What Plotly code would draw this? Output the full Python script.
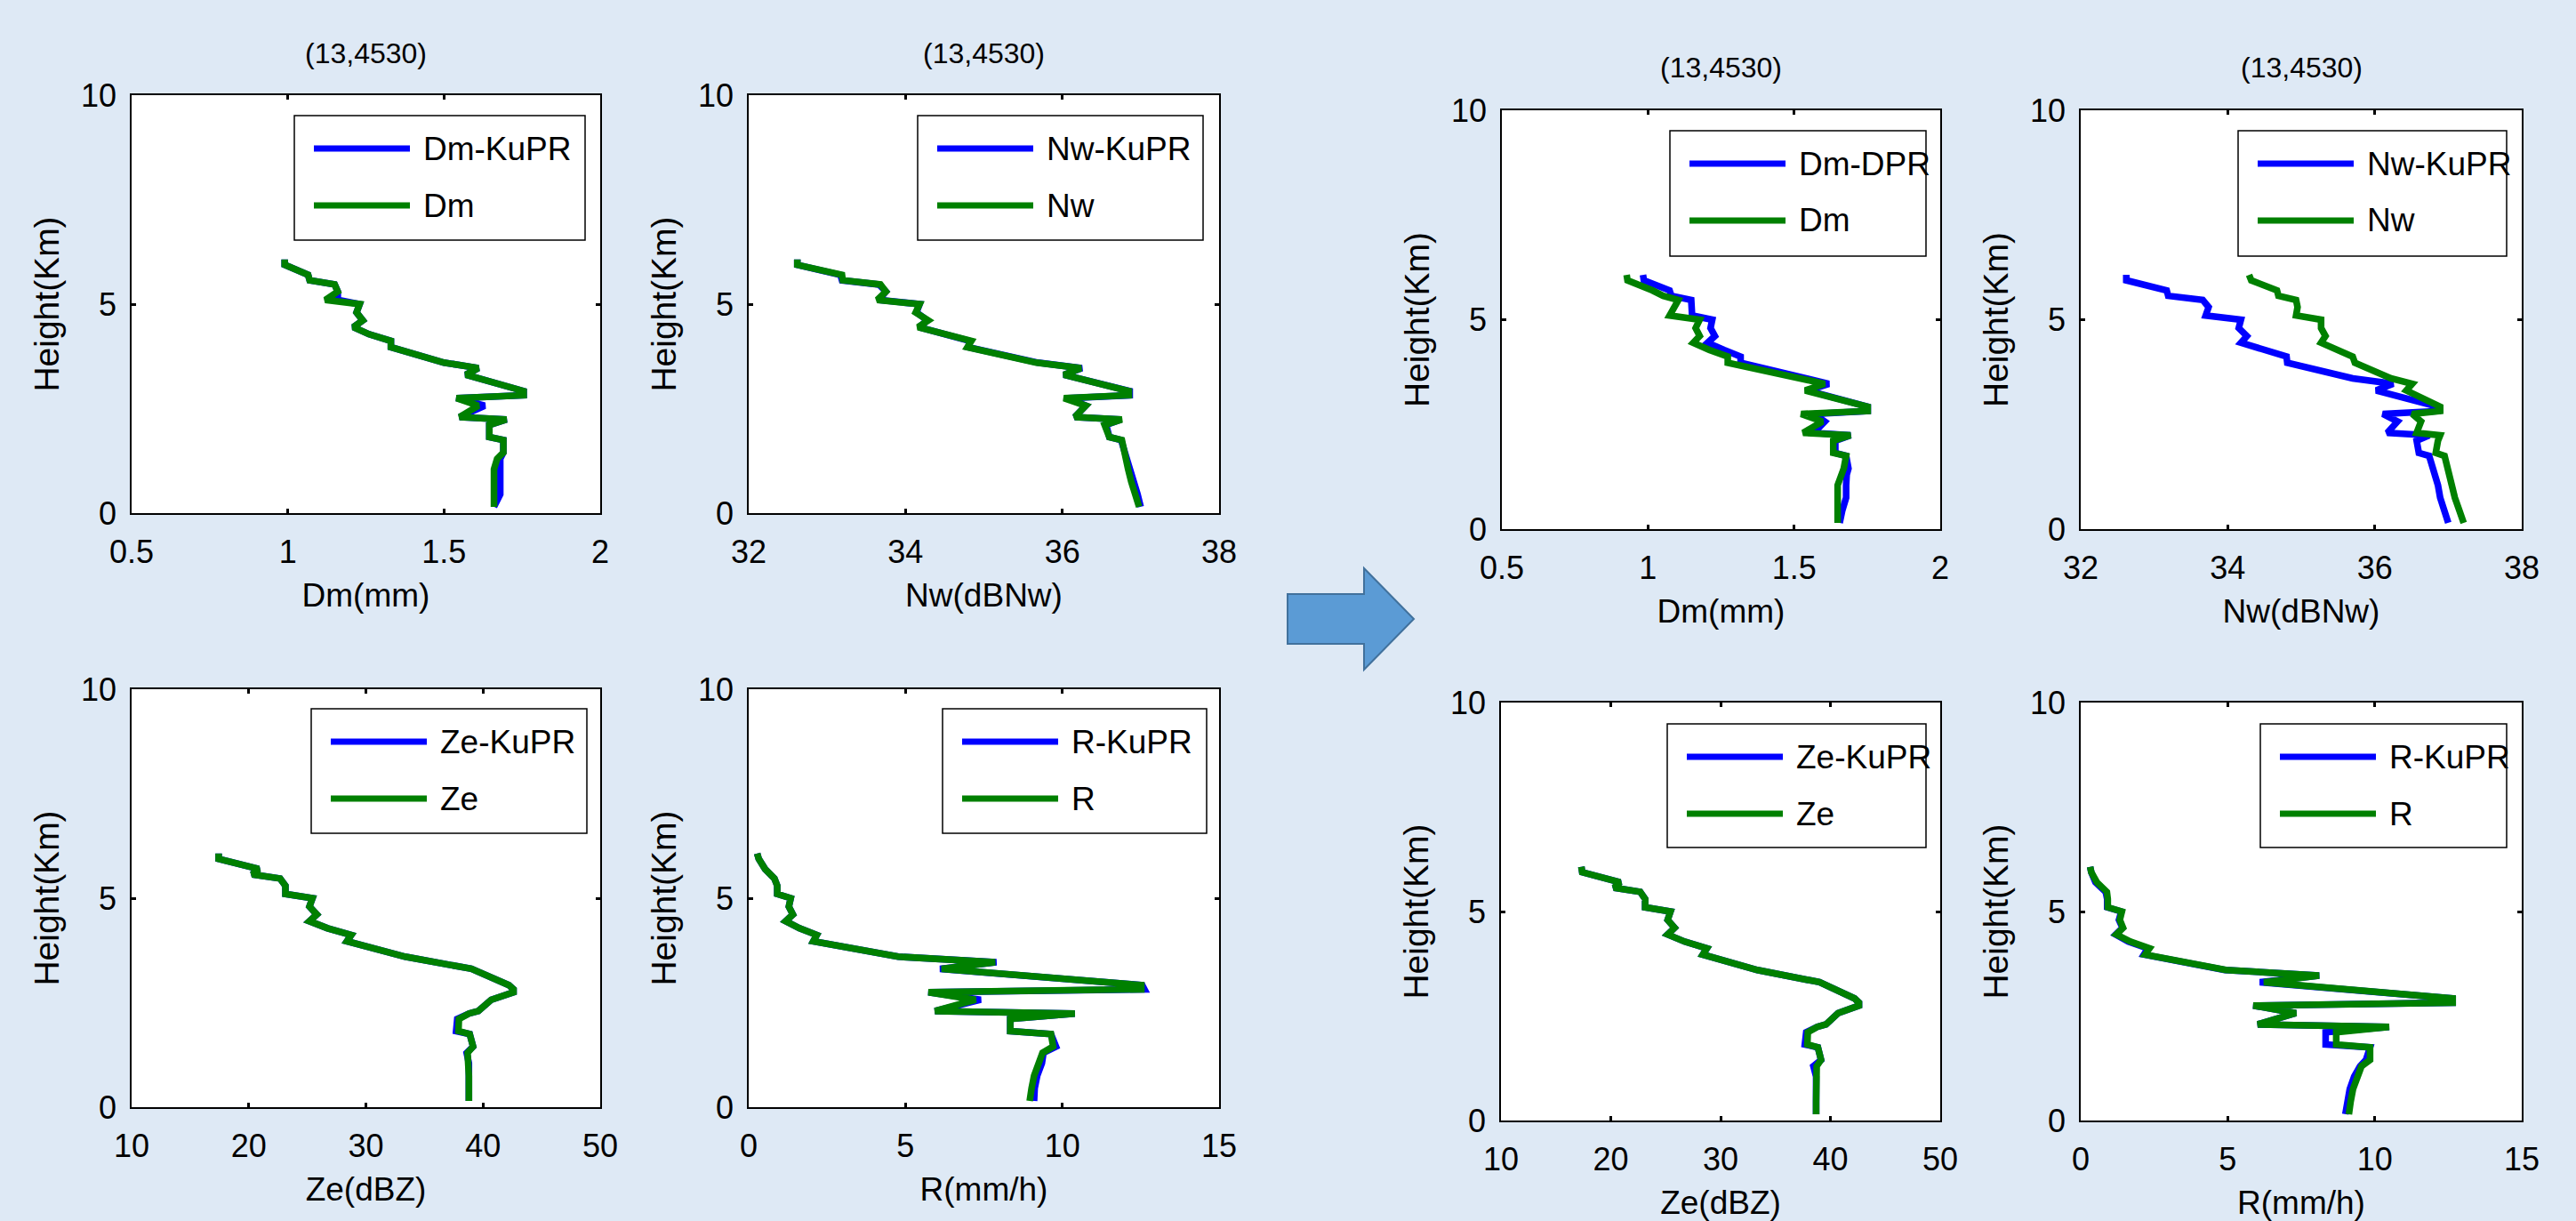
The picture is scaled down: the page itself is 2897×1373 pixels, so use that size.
import plotly.graph_objects as go

W, H = 2897, 1373
FONT = "Liberation Sans, Arial, Helvetica, sans-serif"
BLUE = "#0000FF"
GREEN = "#008000"

# ---------------- data ----------------
height_km = [6.07, 5.94, 5.70, 5.57, 5.47, 5.30, 5.10, 5.00, 4.80, 4.61, 4.45, 4.28, 4.12, 3.97,
             3.60, 3.47, 3.31, 2.92, 2.82, 2.75, 2.57, 2.30, 2.24, 2.11, 1.82, 1.75, 1.45, 1.30,
             1.05, 0.75, 0.45, 0.15]

# left block (KuPR vs retrieved)
dm_kupr_l = [0.99, 0.99, 1.065, 1.07, 1.15, 1.16, 1.16, 1.23, 1.22, 1.24, 1.21, 1.26, 1.33, 1.33,
             1.50, 1.61, 1.57, 1.755, 1.755, 1.54, 1.63, 1.55, 1.70, 1.645, 1.645, 1.69, 1.69, 1.68,
             1.68, 1.68, 1.68, 1.66]
dm_l = [0.99, 0.99, 1.065, 1.07, 1.15, 1.16, 1.12, 1.23, 1.22, 1.24, 1.21, 1.26, 1.33, 1.33,
        1.50, 1.61, 1.57, 1.755, 1.755, 1.54, 1.61, 1.55, 1.70, 1.645, 1.645, 1.69, 1.69, 1.67,
        1.66, 1.66, 1.66, 1.66]
nw_kupr_l = [32.62, 32.62, 33.17, 33.19, 33.66, 33.75, 33.66, 34.18, 34.14, 34.28, 34.17, 34.50,
             34.82, 34.80, 35.69, 36.25, 36.02, 36.86, 36.86, 36.07, 36.30, 36.16, 36.75, 36.56,
             36.60, 36.75, 36.80, 36.84, 36.88, 36.91, 36.96, 37.00]
nw_l = [32.62, 32.62, 33.19, 33.20, 33.68, 33.75, 33.64, 34.18, 34.13, 34.29, 34.16, 34.50,
        34.84, 34.79, 35.67, 36.24, 36.02, 36.85, 36.85, 36.02, 36.30, 36.16, 36.76, 36.54,
        36.60, 36.76, 36.79, 36.80, 36.84, 36.88, 36.94, 36.98]
ze_kupr_l = [17.43, 17.43, 20.85, 20.30, 22.68, 23.13, 23.13, 25.44, 25.18, 25.81, 25.18, 26.73,
             28.75, 28.38, 33.35, 35.80, 39.00, 42.20, 42.60, 42.60, 40.70, 39.60, 38.80, 37.80,
             37.70, 38.86, 39.15, 38.60, 38.79, 38.79, 38.79, 38.79]
ze_l = [17.43, 17.43, 20.85, 20.30, 22.68, 23.13, 23.13, 25.44, 25.18, 25.81, 25.18, 26.73,
        28.75, 28.38, 33.35, 35.80, 39.00, 42.20, 42.60, 42.60, 40.70, 39.60, 38.80, 37.94,
        37.90, 38.86, 39.15, 38.68, 38.79, 38.79, 38.79, 38.79]
r_kupr_l = [0.27, 0.32, 0.52, 0.72, 0.82, 0.91, 0.91, 1.34, 1.28, 1.41, 1.18, 1.62, 2.17, 2.06,
            4.77, 7.90, 6.10, 12.55, 12.62, 5.73, 7.40, 5.94, 10.40, 8.34, 8.34, 9.64, 9.80, 9.40,
            9.35, 9.20, 9.12, 9.10]
r_l = [0.27, 0.32, 0.52, 0.72, 0.82, 0.91, 0.91, 1.34, 1.28, 1.41, 1.18, 1.62, 2.17, 2.06,
       4.77, 7.86, 6.15, 12.52, 12.52, 5.73, 7.24, 5.94, 10.40, 8.34, 8.34, 9.64, 9.71, 9.37,
       9.25, 9.10, 9.02, 8.96]

# right block (DPR / KuPR vs retrieved)
dm_dpr_r = [0.983, 0.986, 1.074, 1.08, 1.148, 1.15, 1.151, 1.22, 1.214, 1.229, 1.204, 1.26, 1.317,
            1.317, 1.524, 1.619, 1.546, 1.752, 1.752, 1.568, 1.605, 1.568, 1.693, 1.641, 1.641,
            1.678, 1.686, 1.68, 1.678, 1.678, 1.665, 1.656]
dm_r = [0.927, 0.93, 1.015, 1.052, 1.104, 1.09, 1.074, 1.177, 1.163, 1.177, 1.155, 1.21, 1.273,
        1.273, 1.516, 1.605, 1.538, 1.752, 1.752, 1.524, 1.597, 1.531, 1.693, 1.634, 1.634,
        1.678, 1.67, 1.66, 1.649, 1.649, 1.649, 1.649]
nw_kupr_r = [32.62, 32.62, 33.17, 33.19, 33.66, 33.74, 33.70, 34.18, 34.15, 34.26, 34.18, 34.50,
             34.80, 34.81, 35.70, 36.25, 36.02, 36.86, 36.86, 36.11, 36.31, 36.17, 36.74, 36.57,
             36.60, 36.74, 36.80, 36.83, 36.86, 36.89, 36.95, 37.00]
nw_r = [34.29, 34.32, 34.67, 34.69, 34.93, 34.95, 34.93, 35.27, 35.27, 35.33, 35.27, 35.50,
        35.70, 35.73, 36.22, 36.51, 36.43, 36.89, 36.89, 36.51, 36.63, 36.57, 36.89, 36.86,
        36.83, 36.95, 36.99, 37.01, 37.06, 37.09, 37.15, 37.21]
ze_kupr_r = [17.32, 17.40, 20.85, 20.30, 22.68, 23.13, 23.13, 25.44, 25.18, 25.81, 25.18, 26.73,
             28.75, 28.38, 33.35, 35.80, 39.00, 42.20, 42.60, 42.60, 40.70, 39.60, 38.80, 37.80,
             37.67, 38.86, 39.15, 38.45, 38.70, 38.70, 38.70, 38.70]
ze_r = [17.32, 17.40, 20.85, 20.30, 22.68, 23.13, 23.13, 25.44, 25.18, 25.81, 25.18, 26.73,
        28.75, 28.38, 33.35, 35.80, 39.00, 42.20, 42.60, 42.60, 40.70, 39.60, 38.80, 37.94,
        37.90, 38.86, 39.15, 38.75, 38.70, 38.70, 38.70, 38.70]
r_kupr_r = [0.32, 0.36, 0.50, 0.72, 0.85, 0.90, 0.90, 1.38, 1.30, 1.42, 1.19, 1.62, 2.28, 2.15,
            4.90, 8.11, 6.09, 12.65, 12.65, 5.87, 7.32, 6.02, 10.49, 8.33, 8.33, 9.84, 9.70, 9.50,
            9.30, 9.15, 9.05, 9.00]
r_r = [0.32, 0.36, 0.55, 0.75, 0.89, 0.92, 0.92, 1.40, 1.33, 1.44, 1.21, 1.69, 2.34, 2.19,
       4.94, 8.11, 6.23, 12.65, 12.65, 5.87, 7.32, 6.02, 10.49, 8.69, 8.69, 9.84, 9.84, 9.55,
       9.42, 9.26, 9.18, 9.12]

panel_title = "(13,4530)"
y_label = "Height(Km)"
y_ticks = [0, 5, 10]

dm_ticks = [0.5, 1, 1.5, 2]
dm_ticktext = ["0.5", "1", "1.5", "2"]
nw_ticks = [32, 34, 36, 38]
ze_ticks = [10, 20, 30, 40, 50]
r_ticks = [0, 5, 10, 15]

# ---------------- layout helpers ----------------
def px_x(p):
    return p / W

def px_y(p):
    return 1 - p / H

# box: (left, right, top, bottom) in pixels; leg: legend box (left, right, top, bottom); title y
panels = [
    dict(box=(148, 675, 107, 577), xs=(dm_kupr_l, dm_l), names=("Dm-KuPR", "Dm"), xlabel="Dm(mm)",
         rng=[0.5, 2], ticks=dm_ticks, ticktext=dm_ticktext, title_y=60, leg=(331, 658, 130, 270)),
    dict(box=(842, 1371, 107, 577), xs=(nw_kupr_l, nw_l), names=("Nw-KuPR", "Nw"), xlabel="Nw(dBNw)",
         rng=[32, 38], ticks=nw_ticks, ticktext=None, title_y=60, leg=(1032, 1353, 130, 270)),
    dict(box=(1689, 2182, 124, 595), xs=(dm_dpr_r, dm_r), names=("Dm-DPR", "Dm"), xlabel="Dm(mm)",
         rng=[0.5, 2], ticks=dm_ticks, ticktext=dm_ticktext, title_y=76, leg=(1878, 2166, 147, 288)),
    dict(box=(2340, 2836, 124, 595), xs=(nw_kupr_r, nw_r), names=("Nw-KuPR", "Nw"), xlabel="Nw(dBNw)",
         rng=[32, 38], ticks=nw_ticks, ticktext=None, title_y=76, leg=(2517, 2819, 147, 288)),
    dict(box=(148, 675, 775, 1245), xs=(ze_kupr_l, ze_l), names=("Ze-KuPR", "Ze"), xlabel="Ze(dBZ)",
         rng=[10, 50], ticks=ze_ticks, ticktext=None, title_y=None, leg=(350, 660, 797, 937)),
    dict(box=(842, 1371, 775, 1245), xs=(r_kupr_l, r_l), names=("R-KuPR", "R"), xlabel="R(mm/h)",
         rng=[0, 15], ticks=r_ticks, ticktext=None, title_y=None, leg=(1060, 1357, 797, 937)),
    dict(box=(1688, 2182, 790, 1260), xs=(ze_kupr_r, ze_r), names=("Ze-KuPR", "Ze"), xlabel="Ze(dBZ)",
         rng=[10, 50], ticks=ze_ticks, ticktext=None, title_y=None, leg=(1875, 2166, 814, 953)),
    dict(box=(2340, 2836, 790, 1260), xs=(r_kupr_r, r_r), names=("R-KuPR", "R"), xlabel="R(mm/h)",
         rng=[0, 15], ticks=r_ticks, ticktext=None, title_y=None, leg=(2542, 2819, 814, 953)),
]

fig = go.Figure()
shapes = []
annotations = []
layout = dict(
    width=W, height=H,
    margin=dict(l=0, r=0, t=0, b=0),
    paper_bgcolor="#DEE9F5",
    plot_bgcolor="white",
    showlegend=False,
    font=dict(family=FONT, size=34, color="black"),
)

for i, p in enumerate(panels, start=1):
    xa = "x" if i == 1 else f"x{i}"
    ya = "y" if i == 1 else f"y{i}"
    l, r, t, b = p["box"]
    blue_x, green_x = p["xs"]
    fig.add_trace(go.Scatter(x=blue_x, y=height_km, mode="lines", name=p["names"][0],
                             line=dict(color=BLUE, width=7.5), xaxis=xa, yaxis=ya))
    fig.add_trace(go.Scatter(x=green_x, y=height_km, mode="lines", name=p["names"][1],
                             line=dict(color=GREEN, width=7.5), xaxis=xa, yaxis=ya))
    common = dict(showline=True, linecolor="black", linewidth=1.5, mirror="allticks",
                  ticks="inside", ticklen=5, tickwidth=3, tickcolor="black",
                  showgrid=False, zeroline=False, automargin=False,
                  tickfont=dict(family=FONT, size=36, color="black"))
    xaxis = dict(common, domain=[px_x(l), px_x(r)], range=p["rng"], tickvals=p["ticks"],
                 anchor=ya, ticklabelstandoff=11,
                 title=dict(text=p["xlabel"], font=dict(family=FONT, size=37), standoff=16))
    if p["ticktext"]:
        xaxis["ticktext"] = p["ticktext"]
    yaxis = dict(common, domain=[px_y(b), px_y(t)], range=[0, 10], tickvals=y_ticks,
                 anchor=xa, ticklabelstandoff=8,
                 title=dict(text=y_label, font=dict(family=FONT, size=39), standoff=12))
    layout["xaxis" if i == 1 else f"xaxis{i}"] = xaxis
    layout["yaxis" if i == 1 else f"yaxis{i}"] = yaxis

    if p["title_y"] is not None:
        annotations.append(dict(text=panel_title, xref="paper", yref="paper",
                                x=px_x((l + r) / 2), y=px_y(p["title_y"]),
                                xanchor="center", yanchor="middle", showarrow=False,
                                font=dict(family=FONT, size=32, color="black")))
    # legend box drawn as shapes + text
    ll, lr, lt, lb = p["leg"]
    shapes.append(dict(type="rect", xref="paper", yref="paper",
                       x0=px_x(ll), x1=px_x(lr), y0=px_y(lb), y1=px_y(lt),
                       line=dict(color="black", width=1.5), fillcolor="white", layer="above"))
    for k, (name, col) in enumerate(zip(p["names"], (BLUE, GREEN))):
        yy = lt + (37 if k == 0 else 101)
        shapes.append(dict(type="line", xref="paper", yref="paper",
                           x0=px_x(ll + 22), x1=px_x(ll + 130), y0=px_y(yy), y1=px_y(yy),
                           line=dict(color=col, width=7), layer="above"))
        annotations.append(dict(text=name, xref="paper", yref="paper",
                                x=px_x(ll + 143), y=px_y(yy), xanchor="left", yanchor="middle",
                                showarrow=False, font=dict(family=FONT, size=37, color="black")))

# arrow between the two blocks
arrow_pts = [(1448, 668), (1534, 668), (1534, 639), (1590, 696), (1534, 753), (1534, 724), (1448, 724)]
path = "M " + " L ".join(f"{px_x(x):.5f},{px_y(y):.5f}" for x, y in arrow_pts) + " Z"
shapes.append(dict(type="path", xref="paper", yref="paper", path=path,
                   fillcolor="#5B9BD5", line=dict(color="#41719C", width=2)))

layout["shapes"] = shapes
layout["annotations"] = annotations
fig.update_layout(**layout)
fig.write_html("out.html", config={"displayModeBar": False},
               post_script="document.body.style.margin='0';")
